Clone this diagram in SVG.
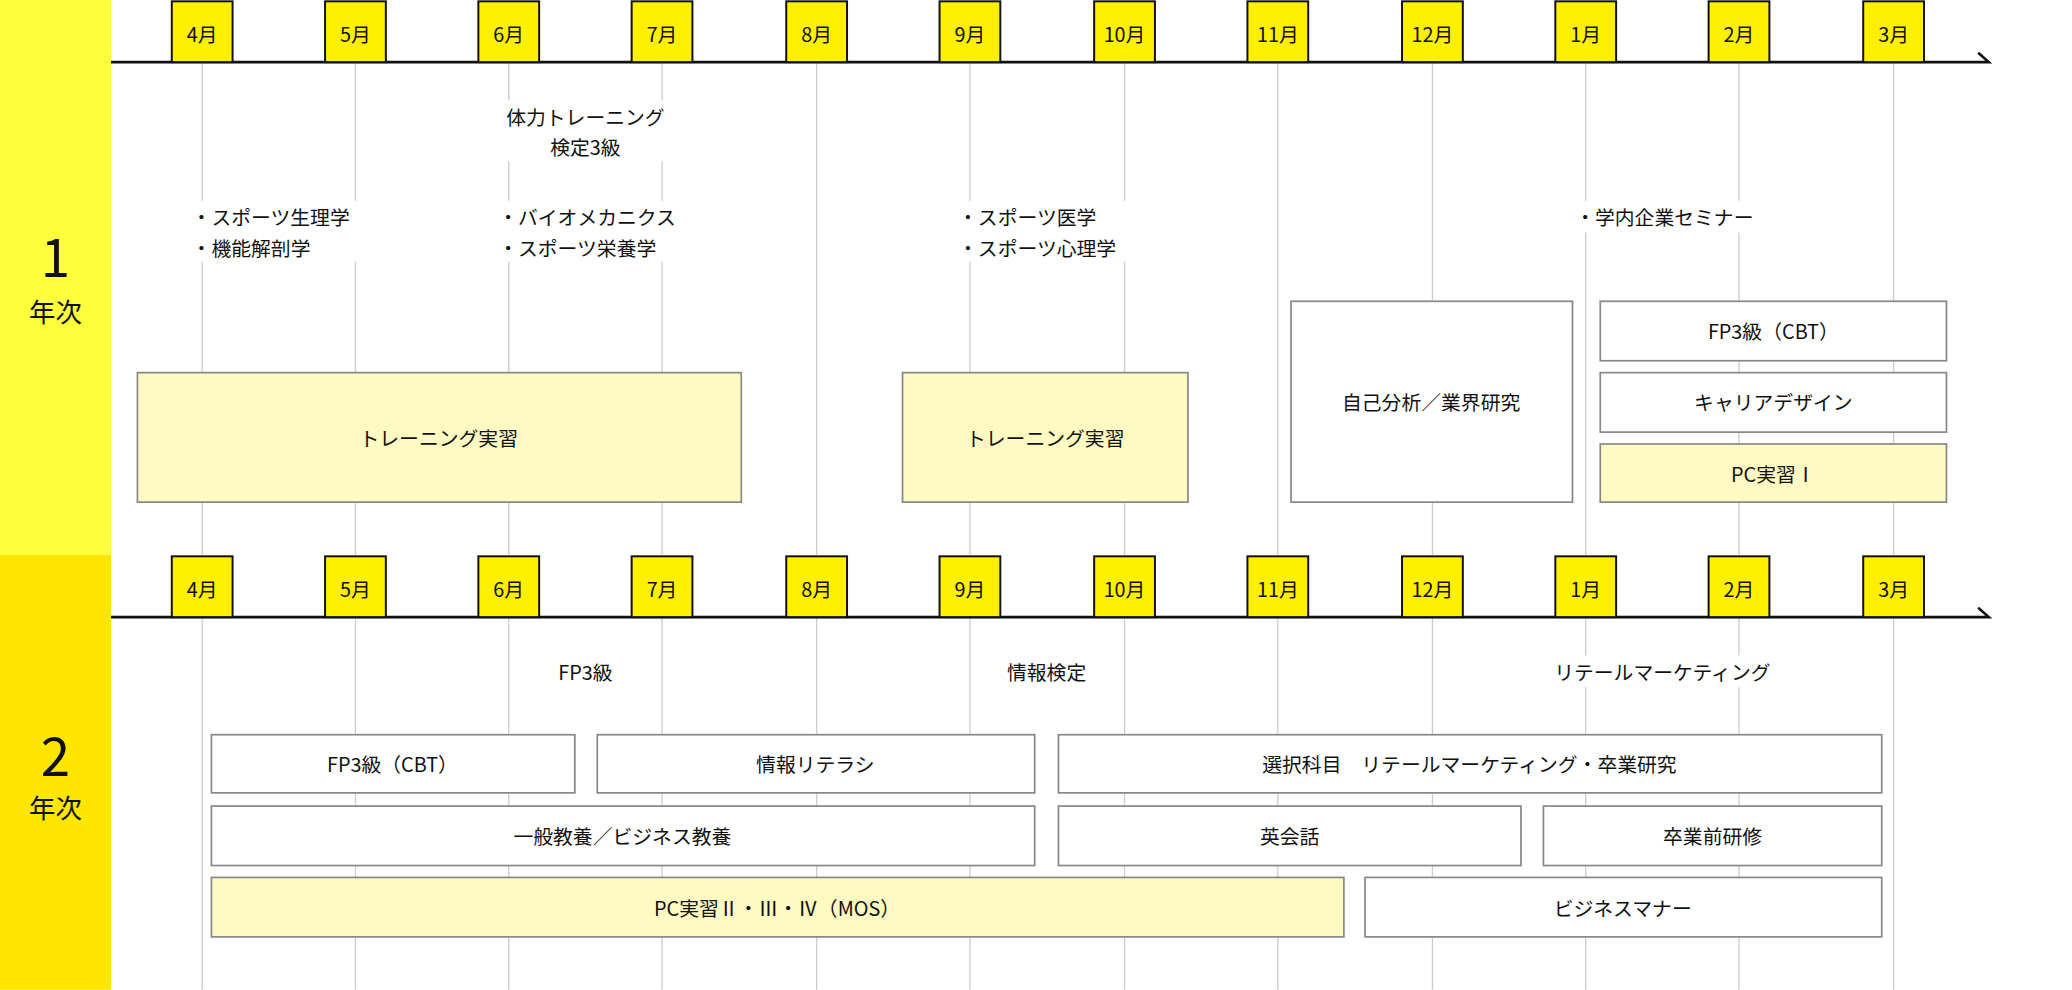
<svg xmlns="http://www.w3.org/2000/svg" width="2072" height="990" viewBox="0 0 2072 990">
<style>
text{font-family:"Noto Sans CJK JP","Noto Sans",sans-serif;font-size:15px;fill:#111;text-anchor:middle;dominant-baseline:central}
.l{text-anchor:start}
.m{fill:#FFF000;stroke:#111;stroke-width:1.5}
.g{stroke:#ccc;stroke-width:1}
.ax{stroke:#111;stroke-width:2;fill:none}
.w{fill:#fff;stroke:#888;stroke-width:1.3}
.y{fill:#FFF9C2;stroke:#888;stroke-width:1.3}
.bg{fill:#fff}
</style>
<g transform="scale(1.32143)">
<rect width="1568" height="749" fill="#fff"/>
<g id="sidebar">
<rect x="0" y="0" width="84" height="420" fill="#FFFF3C"/>
<rect x="0" y="420" width="84" height="329" fill="#FFE600"/>
<text x="42" y="192" style="font-size:40px">1</text>
<text x="42" y="235" style="font-size:20px">年次</text>
<text x="42" y="570" style="font-size:40px">2</text>
<text x="42" y="610" style="font-size:20px">年次</text>
</g>
<g id="gridlines">
<path class="g" d="M153 47V420M269 47V420M385 47V420M501 47V420M618 47V420M734 47V420M851 47V420M967 47V420M1084 47V420M1200 47V420M1316 47V420M1433 47V420"/>
<path class="g" d="M153 467V749M269 467V749M385 467V749M501 467V749M618 467V749M734 467V749M851 467V749M967 467V749M1084 467V749M1200 467V749M1316 467V749M1433 467V749"/>
</g>
<g id="connectors">
<path class="ax" d="M84 47H1505L1497 40"/>
<path class="ax" d="M84 467H1505L1497 460"/>
</g>
<g id="months1">
<rect class="m" x="130" y="1" width="46" height="46"/><text x="153" y="25">4月</text>
<rect class="m" x="246" y="1" width="46" height="46"/><text x="269" y="25">5月</text>
<rect class="m" x="362" y="1" width="46" height="46"/><text x="385" y="25">6月</text>
<rect class="m" x="478" y="1" width="46" height="46"/><text x="501" y="25">7月</text>
<rect class="m" x="595" y="1" width="46" height="46"/><text x="618" y="25">8月</text>
<rect class="m" x="711" y="1" width="46" height="46"/><text x="734" y="25">9月</text>
<rect class="m" x="828" y="1" width="46" height="46"/><text x="851" y="25">10月</text>
<rect class="m" x="944" y="1" width="46" height="46"/><text x="967" y="25">11月</text>
<rect class="m" x="1061" y="1" width="46" height="46"/><text x="1084" y="25">12月</text>
<rect class="m" x="1177" y="1" width="46" height="46"/><text x="1200" y="25">1月</text>
<rect class="m" x="1293" y="1" width="46" height="46"/><text x="1316" y="25">2月</text>
<rect class="m" x="1410" y="1" width="46" height="46"/><text x="1433" y="25">3月</text>
</g>
<g id="months2">
<rect class="m" x="130" y="421" width="46" height="46"/><text x="153" y="445">4月</text>
<rect class="m" x="246" y="421" width="46" height="46"/><text x="269" y="445">5月</text>
<rect class="m" x="362" y="421" width="46" height="46"/><text x="385" y="445">6月</text>
<rect class="m" x="478" y="421" width="46" height="46"/><text x="501" y="445">7月</text>
<rect class="m" x="595" y="421" width="46" height="46"/><text x="618" y="445">8月</text>
<rect class="m" x="711" y="421" width="46" height="46"/><text x="734" y="445">9月</text>
<rect class="m" x="828" y="421" width="46" height="46"/><text x="851" y="445">10月</text>
<rect class="m" x="944" y="421" width="46" height="46"/><text x="967" y="445">11月</text>
<rect class="m" x="1061" y="421" width="46" height="46"/><text x="1084" y="445">12月</text>
<rect class="m" x="1177" y="421" width="46" height="46"/><text x="1200" y="445">1月</text>
<rect class="m" x="1293" y="421" width="46" height="46"/><text x="1316" y="445">2月</text>
<rect class="m" x="1410" y="421" width="46" height="46"/><text x="1433" y="445">3月</text>
</g>
<g id="notes1">
<rect class="bg" x="372" y="76" width="142" height="46"/>
<text x="443" y="88">体力トレーニング</text><text x="443" y="111">検定3級</text>
<rect class="bg" x="144" y="152" width="136" height="46"/>
<text class="l" x="145" y="164">・スポーツ生理学</text><text class="l" x="145" y="187">・機能解剖学</text>
<rect class="bg" x="376" y="152" width="152" height="46"/>
<text class="l" x="377" y="164">・バイオメカニクス</text><text class="l" x="377" y="187">・スポーツ栄養学</text>
<rect class="bg" x="724" y="152" width="136" height="46"/>
<text class="l" x="725" y="164">・スポーツ医学</text><text class="l" x="725" y="187">・スポーツ心理学</text>
<rect class="bg" x="1191" y="152" width="152" height="24"/>
<text class="l" x="1192" y="164">・学内企業セミナー</text>
</g>
<g id="n-training1"><rect class="y" x="104" y="282" width="457" height="98"/><text x="332" y="331">トレーニング実習</text></g>
<g id="n-training2"><rect class="y" x="683" y="282" width="216" height="98"/><text x="791" y="331">トレーニング実習</text></g>
<g id="n-self"><rect class="w" x="977" y="228" width="213" height="152"/><text x="1083" y="304">自己分析／業界研究</text></g>
<g id="n-fp1"><rect class="w" x="1211" y="228" width="262" height="45"/><text x="1342" y="250">FP3級（CBT）</text></g>
<g id="n-career"><rect class="w" x="1211" y="282" width="262" height="45"/><text x="1342" y="304">キャリアデザイン</text></g>
<g id="n-pc1"><rect class="y" x="1211" y="336" width="262" height="44"/><text x="1342" y="358">PC実習Ⅰ</text></g>
<g id="notes2">
<rect class="bg" x="410" y="496" width="66" height="24"/><text x="443" y="508">FP3級</text>
<rect class="bg" x="754" y="496" width="76" height="24"/><text x="792" y="508">情報検定</text>
<rect class="bg" x="1176" y="496" width="164" height="24"/><text x="1258" y="508">リテールマーケティング</text>
</g>
<g id="n-fp2"><rect class="w" x="160" y="556" width="275" height="44"/><text x="297" y="578">FP3級（CBT）</text></g>
<g id="n-info"><rect class="w" x="452" y="556" width="331" height="44"/><text x="617" y="578">情報リテラシ</text></g>
<g id="n-elect"><rect class="w" x="801" y="556" width="623" height="44"/><text x="1112" y="578">選択科目　リテールマーケティング・卒業研究</text></g>
<g id="n-general"><rect class="w" x="160" y="610" width="623" height="45"/><text x="471" y="632">一般教養／ビジネス教養</text></g>
<g id="n-eng"><rect class="w" x="801" y="610" width="350" height="45"/><text x="976" y="632">英会話</text></g>
<g id="n-pre"><rect class="w" x="1168" y="610" width="256" height="45"/><text x="1296" y="632">卒業前研修</text></g>
<g id="n-pc2"><rect class="y" x="160" y="664" width="857" height="45"/><text x="588" y="687">PC実習Ⅱ・Ⅲ・Ⅳ（MOS）</text></g>
<g id="n-manner"><rect class="w" x="1033" y="664" width="391" height="45"/><text x="1228" y="687">ビジネスマナー</text></g>
</g>
</svg>
